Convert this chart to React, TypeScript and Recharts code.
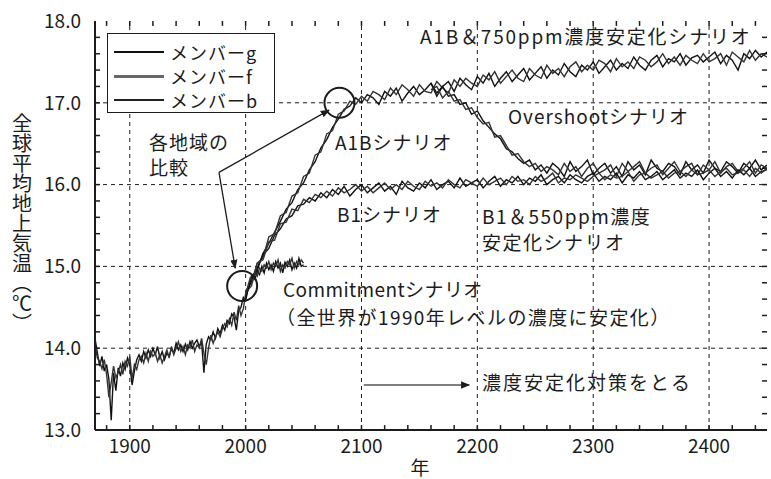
import React from "react";
import {
  Legend,
  Line,
  LineChart,
  ReferenceDot,
  ReferenceLine,
  XAxis,
  YAxis,
} from "recharts";

const FONT = '"Noto Sans CJK JP", "Noto Sans", sans-serif';
const INK = "#1c1c1c";

// axis ticks
const yearTicks = [1900, 2000, 2100, 2200, 2300, 2400];
const yearMinorTicks = [
  1880, 1900, 1920, 1940, 1960, 1980, 2000, 2020, 2040, 2060, 2080, 2100, 2120, 2140, 2160,
  2180, 2200, 2220, 2240, 2260, 2280, 2300, 2320, 2340, 2360, 2380, 2400, 2420, 2440,
];
const tempTicks = [13, 14, 15, 16, 17, 18];
const tempGrid = [14, 15, 16, 17];
const tempMinorTicks = [
  13.2, 13.4, 13.6, 13.8, 14, 14.2, 14.4, 14.6, 14.8, 15, 15.2, 15.4, 15.6, 15.8, 16, 16.2,
  16.4, 16.6, 16.8, 17, 17.2, 17.4, 17.6, 17.8,
];
const X_MIN = 1870;
const X_MAX = 2450;
const Y_MIN = 13;
const Y_MAX = 18;

// 観測・再現期間 1870-2000 (2年ごと)
const histG = [
  14.12, 13.95, 13.78, 13.9, 13.72, 13.8, 13.62, 13.12, 13.7, 13.48, 13.76, 13.66, 13.82, 13.74,
  13.88, 13.8, 13.55, 13.72, 13.86, 13.92, 13.84, 13.96, 13.88, 13.98, 13.9, 14.0, 13.92, 14.02,
  13.88, 13.96, 13.86, 13.94, 13.9, 14.0, 13.94, 14.06, 13.98, 14.04, 13.96, 14.05, 13.98, 14.08,
  14.0, 14.06, 14.1, 14.02, 14.08, 13.7, 14.05, 14.14, 14.1, 14.2, 14.12, 14.24, 14.18, 14.28,
  14.22, 14.34, 14.3, 14.42, 14.38, 14.22, 14.46, 14.5, 14.62, 14.58,
];
const histF = [
  14.05, 13.88, 13.84, 13.75, 13.86, 13.68, 13.4, 13.58, 13.78, 13.64, 13.7, 13.8, 13.68, 13.84,
  13.78, 13.9, 13.62, 13.8, 13.74, 13.86, 13.9, 13.82, 13.94, 13.84, 13.96, 13.9, 13.94, 13.84,
  13.92, 13.82, 13.9, 13.98, 13.88, 14.02, 13.92, 14.0, 14.08, 13.96, 14.02, 13.92, 14.04, 14.0,
  14.1, 13.96, 14.04, 14.0, 14.12, 13.94, 13.8, 14.0, 14.16, 14.06, 14.14, 14.2, 14.14, 14.24,
  14.3, 14.26, 14.36, 14.28, 14.44, 14.34, 14.52, 14.4, 14.48, 14.66,
];

// A1B / A1B＆750ppm (2000-2450, 5年ごと)
const a1bG = [
  14.62, 14.88, 14.95, 15.16, 15.28, 15.42, 15.55, 15.7, 15.78, 15.94,
  16.02, 16.18, 16.28, 16.45, 16.55, 16.7, 16.8, 16.92, 16.96, 17.06,
  17.0, 17.1, 17.06, 16.98, 17.14, 17.08, 17.18, 17.02, 17.12, 17.2,
  17.1, 17.16, 17.24, 17.08, 17.2, 17.26, 17.14, 17.3, 17.22, 17.16,
  17.32, 17.24, 17.36, 17.2, 17.3, 17.38, 17.26, 17.34, 17.42, 17.28,
  17.36, 17.44, 17.3, 17.4, 17.34, 17.48, 17.38, 17.32, 17.46, 17.4,
  17.5, 17.36, 17.44, 17.52, 17.4, 17.48, 17.42, 17.56, 17.46, 17.4,
  17.52, 17.58, 17.44, 17.54, 17.5, 17.6, 17.46, 17.55, 17.58, 17.5,
  17.56, 17.62, 17.48, 17.58, 17.52, 17.4, 17.6, 17.54, 17.64, 17.56,
  17.62,
];
const a1bF = [
  14.7, 14.8, 15.04, 15.1, 15.36, 15.4, 15.62, 15.66, 15.86, 15.9,
  16.1, 16.14, 16.36, 16.4, 16.62, 16.66, 16.86, 16.9, 17.02, 16.98,
  17.08, 17.02, 17.14, 17.1, 17.04, 17.18, 17.1, 17.22, 17.16, 17.08,
  17.22, 17.14, 17.12, 17.26, 17.18, 17.12, 17.28, 17.2, 17.3, 17.24,
  17.2, 17.34, 17.28, 17.38, 17.24, 17.32, 17.4, 17.3, 17.26, 17.42,
  17.34, 17.3, 17.46, 17.36, 17.42, 17.32, 17.44, 17.5, 17.38, 17.46,
  17.4, 17.52, 17.48, 17.38, 17.54, 17.44, 17.5, 17.42, 17.56, 17.52,
  17.44, 17.5, 17.6, 17.48, 17.56, 17.46, 17.58, 17.52, 17.48, 17.6,
  17.5, 17.54, 17.6, 17.46, 17.62, 17.56, 17.5, 17.64, 17.52, 17.6,
  17.56,
];

// Overshoot (2160-2450, 5年ごと)
const overG = [
  17.24, 17.12, 17.2, 17.08, 17.1, 16.98, 17.0, 16.86, 16.9, 16.78,
  16.7, 16.62, 16.56, 16.44, 16.4, 16.32, 16.26, 16.3, 16.18, 16.24,
  16.14, 16.26, 16.2, 16.1, 16.28, 16.16, 16.22, 16.3, 16.12, 16.2,
  16.26, 16.14, 16.22, 16.1, 16.28, 16.18, 16.24, 16.12, 16.3, 16.2,
  16.16, 16.26, 16.22, 16.12, 16.28, 16.18, 16.24, 16.14, 16.3, 16.2,
  16.16, 16.28, 16.22, 16.14, 16.26, 16.2, 16.3, 16.18, 16.24,
];
const overF = [
  17.16, 17.2, 17.06, 17.14, 17.02, 17.04, 16.92, 16.94, 16.82, 16.74,
  16.76, 16.58, 16.6, 16.48, 16.36, 16.38, 16.28, 16.22, 16.26, 16.16,
  16.22, 16.18, 16.12, 16.26, 16.16, 16.22, 16.1, 16.2, 16.26, 16.14,
  16.18, 16.24, 16.1, 16.26, 16.16, 16.22, 16.28, 16.14, 16.2, 16.24,
  16.12, 16.2, 16.28, 16.16, 16.22, 16.26, 16.12, 16.24, 16.18, 16.28,
  16.14, 16.22, 16.26, 16.16, 16.2, 16.28, 16.14, 16.24, 16.2,
];

// B1 / B1＆550ppm (2000-2450, 5年ごと)
const b1G = [
  14.62, 14.84, 14.98, 15.14, 15.22, 15.38, 15.46, 15.58, 15.62, 15.74,
  15.76, 15.84, 15.8, 15.9, 15.84, 15.94, 15.88, 15.98, 15.86, 15.94,
  16.0, 15.9, 15.96, 16.02, 15.92, 15.98, 15.88, 16.04, 15.96, 15.92,
  16.02, 15.96, 16.06, 15.94, 16.0, 16.04, 15.96, 16.08, 15.98, 16.02,
  16.06, 15.96, 16.04, 16.1, 15.98, 16.06, 16.02, 16.1, 16.0, 16.08,
  16.04, 16.12, 16.0, 16.06, 16.1, 16.02, 16.12, 16.06, 16.02, 16.1,
  16.14, 16.04, 16.1, 16.06, 16.14, 16.02, 16.12, 16.08, 16.16, 16.06,
  16.1, 16.16, 16.06, 16.12, 16.18, 16.08, 16.14, 16.1, 16.18, 16.06,
  16.14, 16.2, 16.1, 16.16, 16.08, 16.18, 16.12, 16.2, 16.1, 16.16,
  16.18,
];
const b1F = [
  14.68, 14.76, 15.04, 15.08, 15.3, 15.32, 15.52, 15.54, 15.7, 15.68,
  15.82, 15.78, 15.88, 15.84, 15.92, 15.86, 15.96, 15.9, 15.94, 16.0,
  15.92, 15.98, 15.9, 15.96, 16.02, 15.94, 16.0, 15.94, 16.04, 15.98,
  15.94, 16.04, 15.98, 16.02, 15.96, 16.06, 16.0, 15.96, 16.06, 16.02,
  15.98, 16.08, 16.0, 16.04, 16.08, 16.0, 16.1, 16.04, 16.06, 16.0,
  16.1, 16.04, 16.08, 16.14, 16.02, 16.08, 16.06, 16.12, 16.08, 16.04,
  16.1, 16.14, 16.06, 16.12, 16.08, 16.1, 16.16, 16.04, 16.12, 16.14,
  16.08, 16.12, 16.16, 16.08, 16.14, 16.16, 16.1, 16.18, 16.12, 16.14,
  16.18, 16.1, 16.16, 16.2, 16.12, 16.14, 16.18, 16.1, 16.2, 16.14,
  16.2,
];

// Commitment (2000-2050, 2年ごと)
const commitG = [
  14.58, 14.72, 14.8, 14.88, 14.84, 14.94, 14.9, 15.0, 14.92, 15.04, 14.96, 15.02, 14.94, 15.06,
  14.98, 15.04, 14.92, 15.05, 15.0, 15.08, 14.96, 15.04, 14.98, 15.1, 15.0, 15.02,
];
const commitF = [
  14.66, 14.76, 14.86, 14.82, 14.92, 14.88, 14.98, 14.94, 15.02, 14.98, 15.06, 14.96, 15.04, 15.0,
  15.08, 14.94, 15.02, 14.98, 15.06, 15.02, 15.1, 14.98, 15.06, 15.02, 15.08, 15.04,
];

const members = [
  { name: "メンバーg", color: "#111", width: 2 },
  { name: "メンバーf", color: "#666", width: 3.5 },
  { name: "メンバーb", color: "#222", width: 2 },
];

const runs = [
  { id: "hist-g", start: 1870, step: 2, values: histG, color: "#111" },
  { id: "hist-f", start: 1870, step: 2, values: histF, color: "#333" },
  { id: "a1b-g", start: 2000, step: 5, values: a1bG, color: "#111" },
  { id: "a1b-f", start: 2000, step: 5, values: a1bF, color: "#333" },
  { id: "over-g", start: 2160, step: 5, values: overG, color: "#111" },
  { id: "over-f", start: 2160, step: 5, values: overF, color: "#333" },
  { id: "b1-g", start: 2000, step: 5, values: b1G, color: "#111" },
  { id: "b1-f", start: 2000, step: 5, values: b1F, color: "#333" },
  { id: "commit-g", start: 2000, step: 2, values: commitG, color: "#111" },
  { id: "commit-f", start: 2000, step: 2, values: commitF, color: "#333" },
];

const notes = [
  { text: "A1B＆750ppm濃度安定化シナリオ", x: 420, y: 44, spacing: 1.8 },
  { text: "Overshootシナリオ", x: 508, y: 124, spacing: 1 },
  { text: "A1Bシナリオ", x: 335, y: 150, spacing: 1 },
  { text: "各地域の", x: 149, y: 150, spacing: 1 },
  { text: "比較", x: 149, y: 175, spacing: 1 },
  { text: "B1シナリオ", x: 337, y: 222, spacing: 1 },
  { text: "B1＆550ppm濃度", x: 482, y: 224, spacing: 1.5 },
  { text: "安定化シナリオ", x: 482, y: 250, spacing: 1.5 },
  { text: "Commitmentシナリオ", x: 283, y: 297, spacing: 0.4 },
  { text: "（全世界が1990年レベルの濃度に安定化）", x: 276, y: 325, spacing: 1.4 },
  { text: "濃度安定化対策をとる", x: 482, y: 390, spacing: 2 },
];

const toPoints = (start: number, step: number, values: number[]) =>
  values.map((v, i) => ({ year: start + i * step, temp: v }));

const tickStyle = { fontSize: 19, fill: INK, fontFamily: FONT };

// inward minor tick lengths in data units (about 5px)
const TICK_DX = 4.3;
const TICK_DY = 0.06;

function MemberLegend() {
  return (
    <div
      style={{
        border: `1.5px solid ${INK}`,
        background: "#fff",
        padding: "6px 6px 4px",
        fontFamily: FONT,
        fontSize: 18,
        color: INK,
        lineHeight: "24px",
        boxSizing: "border-box",
        height: 80,
      }}
    >
      {members.map((m) => (
        <div key={m.name} style={{ display: "flex", alignItems: "center", height: 24 }}>
          <span
            style={{
              display: "inline-block",
              width: 50,
              height: 0,
              borderTop: `${m.width}px solid ${m.color}`,
              marginRight: 6,
            }}
          />
          <span style={{ letterSpacing: 1 }}>{m.name}</span>
        </div>
      ))}
    </div>
  );
}

export default function App() {
  return (
    <div style={{ position: "absolute", left: 0, top: 0, width: 771, height: 479, background: "#fff" }}>
      <LineChart width={771} height={479} margin={{ top: 21, right: 4, left: 35, bottom: 19 }}>
        <XAxis
          xAxisId="x"
          dataKey="year"
          type="number"
          domain={[X_MIN, X_MAX]}
          ticks={yearTicks}
          allowDataOverflow
          height={30}
          tickLine={false}
          tickSize={0}
          tickMargin={10}
          axisLine={{ stroke: INK, strokeWidth: 2 }}
          tick={tickStyle}
        />
        <XAxis
          xAxisId="xTop"
          orientation="top"
          dataKey="year"
          type="number"
          domain={[X_MIN, X_MAX]}
          mirror
          height={0}
          tick={false}
          tickLine={false}
          axisLine={{ stroke: INK, strokeWidth: 2 }}
        />
        <YAxis
          yAxisId="y"
          type="number"
          domain={[Y_MIN, Y_MAX]}
          ticks={tempTicks}
          allowDataOverflow
          width={60}
          tickLine={false}
          tickSize={0}
          tickMargin={14}
          axisLine={{ stroke: INK, strokeWidth: 2 }}
          tick={tickStyle}
          tickFormatter={(v: number) => v.toFixed(1)}
        />
        <YAxis
          yAxisId="yRight"
          orientation="right"
          type="number"
          domain={[Y_MIN, Y_MAX]}
          mirror
          width={0}
          tick={false}
          tickLine={false}
          axisLine={{ stroke: INK, strokeWidth: 2 }}
        />
        {yearTicks.map((t) => (
          <ReferenceLine key={`gx${t}`} xAxisId="x" yAxisId="y" x={t} stroke={INK} strokeDasharray="4 4" />
        ))}
        {tempGrid.map((t) => (
          <ReferenceLine key={`gy${t}`} xAxisId="x" yAxisId="y" y={t} stroke={INK} strokeDasharray="4 4" />
        ))}
        {yearMinorTicks.map((t) => (
          <ReferenceLine
            key={`tb${t}`}
            xAxisId="x"
            yAxisId="y"
            segment={[{ x: t, y: Y_MIN }, { x: t, y: Y_MIN + TICK_DY }]}
            stroke={INK}
            strokeWidth={1.5}
          />
        ))}
        {yearMinorTicks.map((t) => (
          <ReferenceLine
            key={`tt${t}`}
            xAxisId="x"
            yAxisId="y"
            segment={[{ x: t, y: Y_MAX }, { x: t, y: Y_MAX - TICK_DY }]}
            stroke={INK}
            strokeWidth={1.5}
          />
        ))}
        {tempMinorTicks.map((t) => (
          <ReferenceLine
            key={`tl${t}`}
            xAxisId="x"
            yAxisId="y"
            segment={[{ x: X_MIN, y: t }, { x: X_MIN + TICK_DX, y: t }]}
            stroke={INK}
            strokeWidth={1.5}
          />
        ))}
        {tempMinorTicks.map((t) => (
          <ReferenceLine
            key={`tr${t}`}
            xAxisId="x"
            yAxisId="y"
            segment={[{ x: X_MAX, y: t }, { x: X_MAX - TICK_DX, y: t }]}
            stroke={INK}
            strokeWidth={1.5}
          />
        ))}
        {runs.map((r) => (
          <Line
            key={r.id}
            xAxisId="x"
            yAxisId="y"
            data={toPoints(r.start, r.step, r.values)}
            dataKey="temp"
            type="linear"
            stroke={r.color}
            strokeWidth={1.4}
            dot={false}
            activeDot={false}
            legendType="none"
            isAnimationActive={false}
          />
        ))}
        <ReferenceDot xAxisId="x" yAxisId="y" x={2081} y={17.0} r={15} fill="none" stroke={INK} strokeWidth={2} />
        <ReferenceDot xAxisId="x" yAxisId="y" x={1997} y={14.76} r={15} fill="none" stroke={INK} strokeWidth={2} />
        <ReferenceLine
          xAxisId="x"
          yAxisId="y"
          segment={[{ x: 1977, y: 16.15 }, { x: 2072, y: 16.91 }]}
          stroke={INK}
          strokeWidth={1.3}
          markerEnd="url(#arrowHead)"
        />
        <ReferenceLine
          xAxisId="x"
          yAxisId="y"
          segment={[{ x: 1977, y: 16.15 }, { x: 1991, y: 14.98 }]}
          stroke={INK}
          strokeWidth={1.3}
          markerEnd="url(#arrowHead)"
        />
        <ReferenceLine
          xAxisId="x"
          yAxisId="y"
          segment={[{ x: 2102, y: 13.55 }, { x: 2193, y: 13.55 }]}
          stroke="#555"
          strokeWidth={1.3}
          markerEnd="url(#arrowHead)"
        />
        <Legend
          layout="horizontal"
          verticalAlign="middle"
          align="center"
          content={() => <MemberLegend />}
          wrapperStyle={{ left: 107, top: 33, width: 168 }}
        />
      </LineChart>
      <svg
        width={771}
        height={479}
        style={{ position: "absolute", left: 0, top: 0, pointerEvents: "none" }}
      >
        <defs>
          <marker
            id="arrowHead"
            viewBox="0 0 10 10"
            refX="9"
            refY="5"
            markerWidth="7"
            markerHeight="7"
            orient="auto"
          >
            <path d="M0,1 L10,5 L0,9 z" fill={INK} />
          </marker>
        </defs>
        {notes.map((n) => (
          <text
            key={n.text}
            x={n.x}
            y={n.y}
            fontSize={19}
            fontFamily={FONT}
            fill={INK}
            letterSpacing={n.spacing}
          >
            {n.text}
          </text>
        ))}
        <text x={420} y={475} fontSize={19} fontFamily={FONT} fill={INK} textAnchor="middle">
          年
        </text>
        <text
          x={22}
          y={113}
          fontSize={20}
          fontFamily={FONT}
          fill={INK}
          style={{ writingMode: "vertical-rl" }}
        >
          全球平均地上気温（℃）
        </text>
      </svg>
    </div>
  );
}
